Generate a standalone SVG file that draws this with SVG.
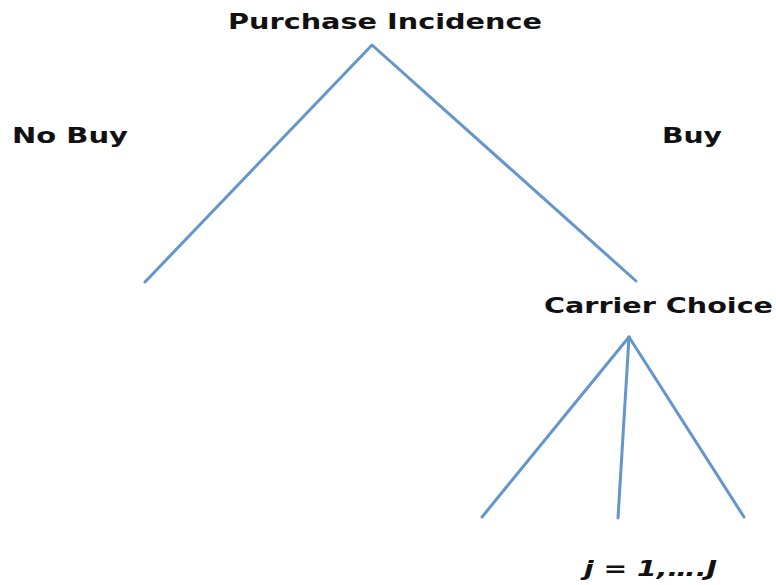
<svg xmlns="http://www.w3.org/2000/svg" width="776" height="585" viewBox="0 0 776 585">
<style>
.lbl{font-family:"DejaVu Sans","Liberation Sans",sans-serif;font-weight:bold;fill:#111;}
.edge{stroke:#6495cc;stroke-width:3;fill:none;stroke-linecap:round;stroke-linejoin:round;}
</style>
<rect width="776" height="585" fill="#ffffff"/>
<g id="connectors">
<polyline class="edge" points="145,282 372,45 636,281"/>
<line class="edge" x1="629" y1="337" x2="482" y2="517"/>
<line class="edge" x1="629" y1="337" x2="618" y2="518"/>
<line class="edge" x1="629" y1="337" x2="744" y2="517"/>
</g>
<g id="purchase-incidence">
<text class="lbl" x="228" y="29" font-size="22" textLength="314" lengthAdjust="spacingAndGlyphs">Purchase Incidence</text>
</g>
<g id="no-buy">
<text class="lbl" x="12" y="143" font-size="21" textLength="116" lengthAdjust="spacingAndGlyphs">No Buy</text>
</g>
<g id="buy">
<text class="lbl" x="662" y="143" font-size="21" textLength="60" lengthAdjust="spacingAndGlyphs">Buy</text>
</g>
<g id="carrier-choice">
<text class="lbl" x="544" y="313" font-size="22" textLength="229" lengthAdjust="spacingAndGlyphs">Carrier Choice</text>
</g>
<g id="alternatives">
<text class="lbl" x="584" y="576" font-size="21" font-style="italic" textLength="133" lengthAdjust="spacingAndGlyphs">j = 1,….J</text>
</g>
</svg>
